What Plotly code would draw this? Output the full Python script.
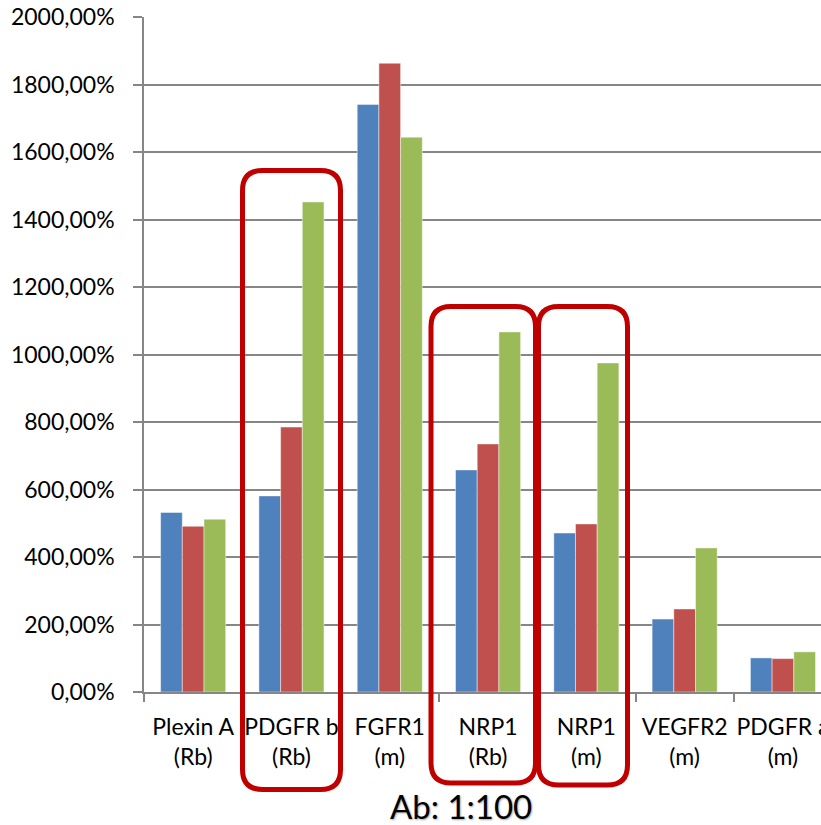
import plotly.graph_objects as go

# Antibody targets (two-line category labels)
categories = [
    "Plexin A<br>(Rb)",
    "PDGFR b<br>(Rb)",
    "FGFR1<br>(m)",
    "NRP1<br>(Rb)",
    "NRP1<br>(m)",
    "VEGFR2<br>(m)",
    "PDGFR a<br>(m)",
]

# Relative signal (%) for the three conditions
series_blue = [532, 581, 1741, 658, 471, 216, 101]
series_red = [491, 785, 1863, 735, 498, 246, 99]
series_green = [512, 1452, 1644, 1067, 975, 427, 119]

y_tick_values = [0, 200, 400, 600, 800, 1000, 1200, 1400, 1600, 1800, 2000]
y_tick_labels = [f"{v},00%" for v in y_tick_values]

title_text = "Ab: 1:100"

W, H = 821, 825
ML, MR, MT, MB = 144, 0, 17, 133
X_RANGE = [-0.5, 6.387]

FONT = "Lato, 'Noto Sans', sans-serif"
GRID = "#868686"

fig = go.Figure()
for vals, col in [
    (series_blue, "#4F81BD"),
    (series_red, "#C0504D"),
    (series_green, "#9BBB59"),
]:
    fig.add_trace(
        go.Bar(
            x=categories,
            y=vals,
            marker=dict(color=col, line=dict(color="rgba(255,255,255,0.45)", width=1)),
            showlegend=False,
        )
    )

# Pixel -> paper helpers for the highlight frames
pw, ph = W - ML - MR, H - MT - MB


def px_x(px):
    return (px - ML) / pw


def px_y(py):
    return (H - MB - py) / ph


def rounded_rect(x0, y0, x1, y1, r):
    """Rounded rectangle path (pixel input, paper output)."""
    X = px_x
    Y = px_y
    return (
        f"M {X(x0 + r)} {Y(y0)} L {X(x1 - r)} {Y(y0)} "
        f"Q {X(x1)} {Y(y0)} {X(x1)} {Y(y0 + r)} "
        f"L {X(x1)} {Y(y1 - r)} "
        f"Q {X(x1)} {Y(y1)} {X(x1 - r)} {Y(y1)} "
        f"L {X(x0 + r)} {Y(y1)} "
        f"Q {X(x0)} {Y(y1)} {X(x0)} {Y(y1 - r)} "
        f"L {X(x0)} {Y(y0 + r)} "
        f"Q {X(x0)} {Y(y0)} {X(x0 + r)} {Y(y0)} Z"
    )


frames = [
    (242.5, 170.5, 340.5, 789.5),
    (431, 306.5, 535.5, 783),
    (538.5, 306.5, 627.5, 785),
]
for x0, y0, x1, y1 in frames:
    fig.add_shape(
        type="path",
        path=rounded_rect(x0, y0, x1, y1, 20),
        xref="paper",
        yref="paper",
        line=dict(color="#C00000", width=5),
        fillcolor="rgba(0,0,0,0)",
        layer="above",
    )

fig.add_annotation(
    text=title_text,
    xref="paper",
    yref="paper",
    x=px_x(461),
    y=px_y(806),
    xanchor="center",
    yanchor="middle",
    showarrow=False,
    font=dict(family=FONT, size=33, color="#000000", shadow="1px 1px 2px rgba(0,0,0,0.35)"),
)

fig.update_layout(
    width=W,
    height=H,
    margin=dict(l=ML, r=MR, t=MT, b=MB, pad=0, autoexpand=False),
    paper_bgcolor="white",
    plot_bgcolor="white",
    barmode="group",
    bargap=0.338,
    bargroupgap=0,
    font=dict(family=FONT, size=23, color="#000000"),
)

fig.update_xaxes(
    range=X_RANGE,
    automargin=False,
    tickangle=0,
    showgrid=False,
    showline=True,
    linecolor=GRID,
    linewidth=1.5,
    ticks="outside",
    tickson="boundaries",
    ticklen=8,
    tickcolor=GRID,
    tickwidth=1.5,
    tickfont=dict(family=FONT, size=23, color="#000000"),
    ticklabelstandoff=14,
    fixedrange=True,
)

fig.update_yaxes(
    range=[0, 2000],
    automargin=False,
    tickvals=y_tick_values,
    ticktext=y_tick_labels,
    showgrid=True,
    gridcolor=GRID,
    gridwidth=1.5,
    showline=True,
    linecolor=GRID,
    linewidth=1.5,
    ticks="outside",
    ticklen=9,
    tickcolor=GRID,
    tickwidth=1.5,
    tickfont=dict(family=FONT, size=23, color="#000000"),
    ticklabelstandoff=14,
    zeroline=False,
    fixedrange=True,
)

fig.write_html("out.html")
